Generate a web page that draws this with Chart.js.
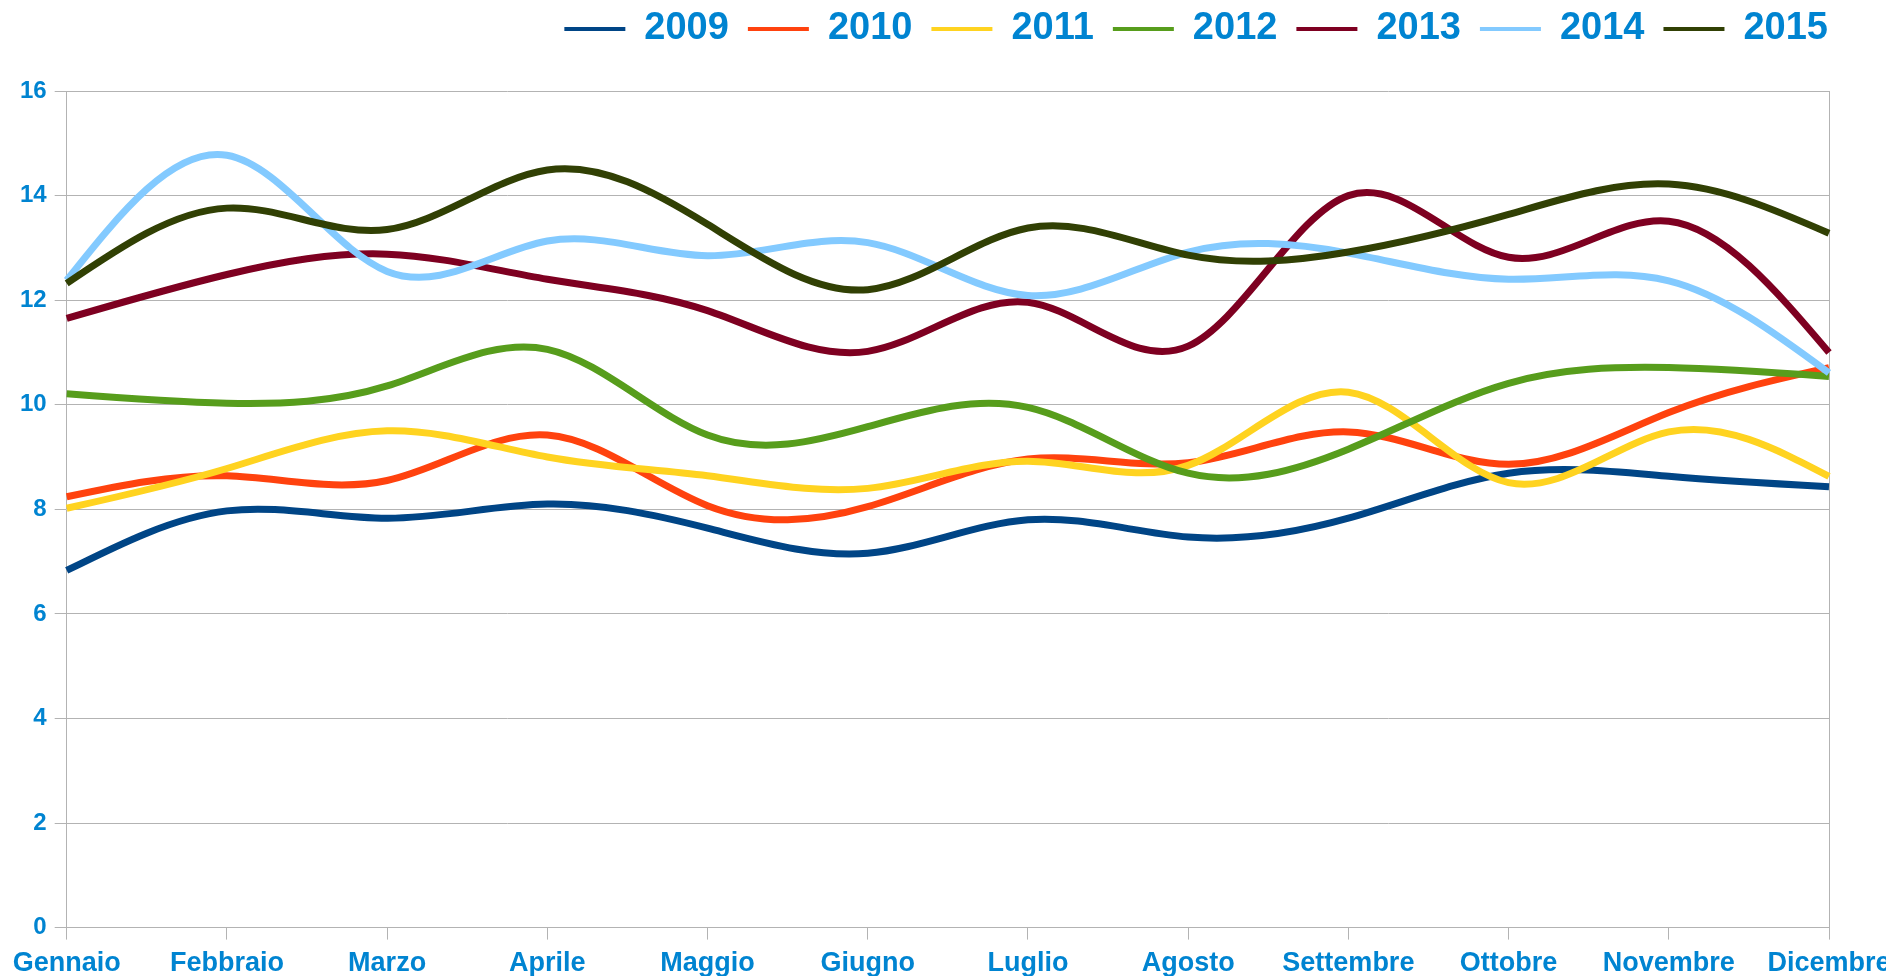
<!DOCTYPE html>
<html>
<head>
<meta charset="utf-8">
<script src="https://cdn.jsdelivr.net/npm/chart.js@4.4.1/dist/chart.umd.min.js"></script>
<style>
    html, body { margin: 0; padding: 0; background: #ffffff; }
    #wrap { width: 1886px; height: 976px; position: relative; }
</style>
</head>
<body>
<div id="wrap"><canvas id="myChart"></canvas></div>
<script>
const months = ['Gennaio', 'Febbraio', 'Marzo', 'Aprile', 'Maggio', 'Giugno', 'Luglio', 'Agosto', 'Settembre', 'Ottobre', 'Novembre', 'Dicembre'];
const years = ['2009', '2010', '2011', '2012', '2013', '2014', '2015'];

const v2009 = [6.83, 7.97, 7.83, 8.10, 7.64, 7.16, 7.80, 7.47, 7.83, 8.69, 8.63, 8.43];
const v2010 = [8.24, 8.64, 8.55, 9.42, 8.07, 8.05, 8.96, 8.89, 9.48, 8.86, 9.85, 10.71];
const v2011 = [8.02, 8.78, 9.50, 9.00, 8.64, 8.40, 8.92, 8.84, 10.24, 8.51, 9.48, 8.63];
const v2012 = [10.21, 10.03, 10.36, 11.06, 9.42, 9.58, 9.95, 8.69, 9.15, 10.41, 10.71, 10.54];
const v2013 = [11.65, 12.49, 12.88, 12.40, 11.80, 11.02, 11.96, 11.12, 14.00, 12.82, 13.51, 11.00];
const v2014 = [12.38, 14.77, 12.55, 13.13, 12.85, 13.10, 12.09, 12.92, 12.90, 12.40, 12.37, 10.61];
const v2015 = [12.32, 13.76, 13.35, 14.49, 13.45, 12.20, 13.38, 12.86, 12.92, 13.64, 14.22, 13.28];

const yTicks = [0, 2, 4, 6, 8, 10, 12, 14, 16];

const colors = ['#004586', '#ff420e', '#ffd320', '#579d1c', '#7e0021', '#83caff', '#314004'];
const textBlue = '#0084d1';
const gridGrey = '#b3b3b3';

// smooth lines the way the office suite does it: natural cubic spline through the points
const naturalSpline = {
    id: 'naturalSpline',
    beforeDatasetDraw(chart, args) {
        const meta = args.meta;
        meta.dataset.updateControlPoints(chart.chartArea, meta.iScale.axis);
        const pts = meta.data;
        const n = pts.length;
        if (n < 3) return;
        const y = pts.map(p => p.y);
        const m = new Array(n).fill(0);
        const c = new Array(n).fill(0);
        const d = new Array(n).fill(0);
        for (let i = 1; i < n - 1; i++) {
            const r = 6 * (y[i + 1] - 2 * y[i] + y[i - 1]);
            const den = 4 - (i > 1 ? c[i - 1] : 0);
            c[i] = 1 / den;
            d[i] = (r - (i > 1 ? d[i - 1] : 0)) / den;
        }
        for (let i = n - 2; i >= 1; i--) {
            m[i] = d[i] - (i < n - 2 ? c[i] * m[i + 1] : 0);
        }
        for (let i = 0; i < n; i++) {
            let s;
            if (i < n - 1) s = (y[i + 1] - y[i]) - (2 * m[i] + m[i + 1]) / 6;
            else s = (y[i] - y[i - 1]) + (m[i - 1] + 2 * m[i]) / 6;
            const dx = i < n - 1 ? pts[i + 1].x - pts[i].x : pts[i].x - pts[i - 1].x;
            pts[i].cp1x = pts[i].x - dx / 3;
            pts[i].cp1y = y[i] - s / 3;
            pts[i].cp2x = pts[i].x + dx / 3;
            pts[i].cp2y = y[i] + s / 3;
        }
    }
};

// extra room between legend and plot
const legendGap = {
    id: 'legendGap',
    beforeLayout(chart) {
        const legend = chart.legend;
        if (legend && !legend._gapPatched) {
            const fit = legend.fit;
            legend.fit = function() {
                fit.call(this);
                this.height += 33;
            };
            legend._gapPatched = true;
        }
    }
};

document.addEventListener("DOMContentLoaded", function() {
    const ctx = document.getElementById('myChart').getContext('2d');
    Chart.defaults.font.family = "'Liberation Sans', Arial, sans-serif";

    const series = [v2009, v2010, v2011, v2012, v2013, v2014, v2015];

    const data = {
        labels: months,
        datasets: years.map((yr, i) => ({
            label: yr,
            data: series[i],
            borderColor: colors[i],
            backgroundColor: colors[i],
            borderWidth: 7,
            pointRadius: 0,
            pointHoverRadius: 0,
            tension: 0.4,
            fill: false,
            order: years.length - i // later years on top
        }))
    };

    const options = {
        responsive: true,
        maintainAspectRatio: false,
        animation: false,
        layout: {
            padding: { top: -9, right: 39, bottom: -12, left: 12 }
        },
        scales: {
            x: {
                offset: false,
                grid: {
                    drawOnChartArea: true,
                    color: c => (c.index === months.length - 1 ? gridGrey : 'rgba(0,0,0,0)'),
                    tickColor: gridGrey,
                    tickLength: 12,
                    lineWidth: 1
                },
                border: { color: gridGrey, width: 1 },
                ticks: {
                    color: textBlue,
                    font: { size: 27, weight: 'bold' },
                    padding: 8,
                    maxRotation: 0,
                    autoSkip: false
                },
                afterFit: scale => {
                    scale.paddingRight = 57; // 39 layout + 18 overhang
                }
            },
            y: {
                min: 0,
                max: 16,
                afterBuildTicks: axis => {
                    axis.ticks = yTicks.map(v => ({ value: v }));
                },
                grid: {
                    color: gridGrey,
                    tickColor: gridGrey,
                    tickLength: 12,
                    lineWidth: 1
                },
                border: { color: gridGrey, width: 1 },
                ticks: {
                    color: textBlue,
                    font: { size: 24, weight: 'bold' },
                    padding: 8
                }
            }
        },
        plugins: {
            legend: {
                position: 'top',
                align: 'end',
                labels: {
                    color: textBlue,
                    font: { size: 38, weight: 'bold' },
                    boxWidth: 61,
                    boxHeight: 4,
                    padding: 19,
                    sort: (a, b) => a.datasetIndex - b.datasetIndex,
                    generateLabels: chart => Chart.defaults.plugins.legend.labels.generateLabels(chart)
                        .map(l => Object.assign(l, { lineWidth: 0 }))
                }
            },
            tooltip: { enabled: false },
            title: { display: false }
        }
    };

    const myChart = new Chart(ctx, {
        type: 'line',
        data: data,
        options: options,
        plugins: [naturalSpline, legendGap]
    });
});
</script>
</body>
</html>
